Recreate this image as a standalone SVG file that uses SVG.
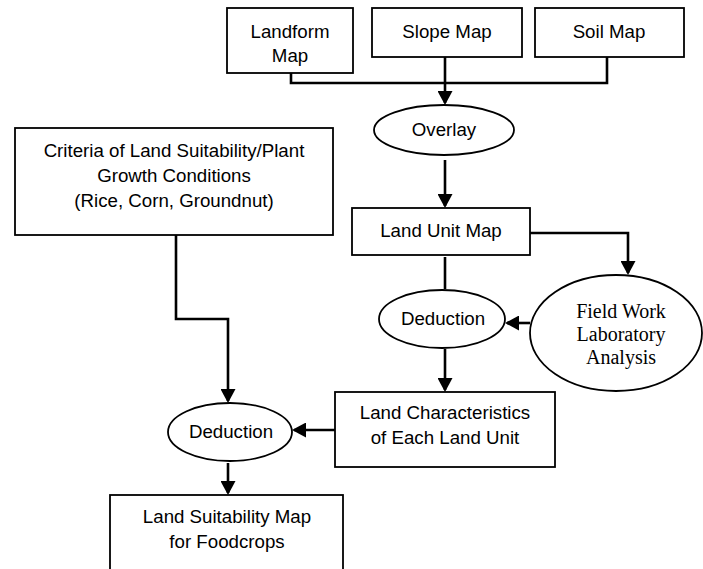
<svg xmlns="http://www.w3.org/2000/svg" width="703" height="569" viewBox="0 0 703 569">
<defs>
<marker id="ah" viewBox="0 0 14 15" refX="12" refY="7.5" markerWidth="14" markerHeight="15" markerUnits="userSpaceOnUse" orient="auto">
<path d="M0,0 L14,7.5 L0,15 z" fill="#000"/>
</marker>
<style>
.box{fill:#fff;stroke:#000;stroke-width:1.8}
.t{font-family:"Liberation Sans",Arial,sans-serif;font-size:18.7px;fill:#000;text-anchor:middle}
.s{font-family:"Liberation Serif","Times New Roman",serif;font-size:20px;fill:#000;text-anchor:middle}
.c{fill:none;stroke:#000;stroke-width:2.6}
.a{marker-end:url(#ah)}
</style>
</defs>
<rect width="703" height="569" fill="#fff"/>
<g id="connectors">
<path class="c" d="M291,73 V83 H607 V57"/>
<path class="c a" d="M445,57 V103"/>
<path class="c a" d="M445,160 V206"/>
<path class="c a" d="M530,233 H628 V273"/>
<path class="c" d="M445,257 V289"/>
<path class="c a" d="M530,323 H507"/>
<path class="c a" d="M445,349 V390"/>
<path class="c a" d="M335,430 H294"/>
<path class="c a" d="M176,235 V319 H228 V401"/>
<path class="c a" d="M228,463 V493"/>
</g>
<g id="landform">
<rect class="box" x="227" y="8" width="126" height="65"/>
<text class="t" x="290" y="38">Landform</text>
<text class="t" x="290" y="62">Map</text>
</g>
<g id="slope">
<rect class="box" x="372" y="8" width="150" height="49"/>
<text class="t" x="447" y="38">Slope Map</text>
</g>
<g id="soil">
<rect class="box" x="535" y="8" width="149" height="49"/>
<text class="t" x="609" y="38">Soil Map</text>
</g>
<g id="overlay">
<ellipse class="box" cx="444" cy="130" rx="70" ry="25"/>
<text class="t" x="444" y="136">Overlay</text>
</g>
<g id="criteria">
<rect class="box" x="15" y="128" width="318" height="107"/>
<text class="t" x="174" y="157">Criteria of Land Suitability/Plant</text>
<text class="t" x="174" y="182">Growth Conditions</text>
<text class="t" x="174" y="207">(Rice, Corn, Groundnut)</text>
</g>
<g id="landunit">
<rect class="box" x="352" y="208" width="178" height="47"/>
<text class="t" x="441" y="237">Land Unit Map</text>
</g>
<g id="fieldwork">
<ellipse class="box" cx="616" cy="333" rx="86" ry="58"/>
<text class="s" x="621" y="318">Field Work</text>
<text class="s" x="621" y="341">Laboratory</text>
<text class="s" x="621" y="364">Analysis</text>
</g>
<g id="deduction1">
<ellipse class="box" cx="442" cy="319" rx="63" ry="29"/>
<text class="t" x="443" y="325">Deduction</text>
</g>
<g id="landchar">
<rect class="box" x="335" y="392" width="220" height="75"/>
<text class="t" x="445" y="419">Land Characteristics</text>
<text class="t" x="445" y="444">of Each Land Unit</text>
</g>
<g id="deduction2">
<ellipse class="box" cx="230" cy="432" rx="62" ry="29"/>
<text class="t" x="231" y="438">Deduction</text>
</g>
<g id="suitability">
<rect class="box" x="110" y="495" width="233" height="80"/>
<text class="t" x="227" y="523">Land Suitability Map</text>
<text class="t" x="227" y="548">for Foodcrops</text>
</g>
</svg>
